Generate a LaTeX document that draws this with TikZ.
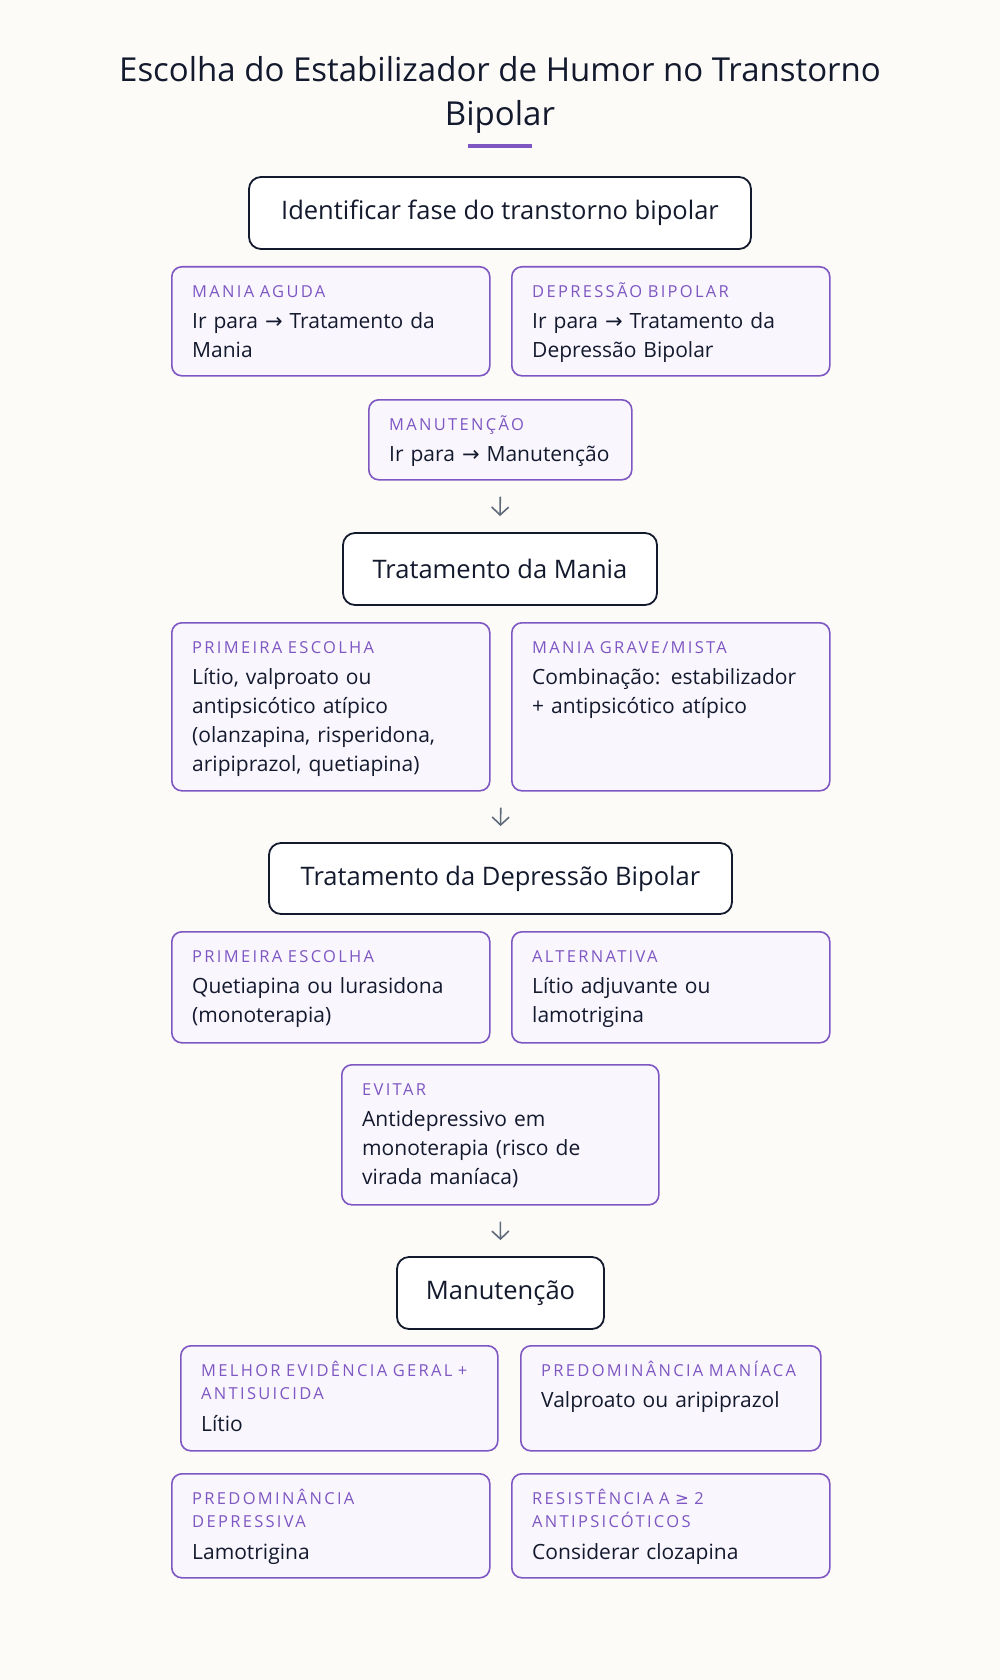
\documentclass[tikz,border=0pt]{standalone}
\usepackage{fontspec}
\setmainfont{Open Sans}
\newfontfamily\labfont[LetterSpace=14]{Open Sans}
\newfontfamily\symfont{DejaVu Sans}
\usetikzlibrary{arrows.meta,positioning,calc}
\definecolor{bgcream}{HTML}{FDFBF8}
\definecolor{inkdark}{HTML}{141A2E}
\definecolor{moodpurple}{HTML}{7E57C2}
\definecolor{moodlav}{HTML}{F9F6FE}
\definecolor{arrowgray}{HTML}{5F6B7A}
\newcommand{\seta}{{\symfont\char"2192}}
\newcommand{\maiorig}{{\symfont\char"2265}}
\tikzset{
  phasebox/.style={draw=inkdark,line width=1.8pt,rounded corners=12pt,fill=white,text=inkdark,
    font=\fontsize{25.5}{30}\selectfont,inner sep=0pt},
  infobox/.style={draw=moodpurple,line width=1.6pt,rounded corners=10pt,fill=moodlav,
    anchor=north west,inner sep=0pt},
  infolab/.style={anchor=base west,inner sep=0pt,text=moodpurple,text width=320pt,align=left,
    font=\labfont\fontsize{16.5}{23}\selectfont},
  infotxt/.style={anchor=base west,inner sep=0pt,text=inkdark,text width=320pt,align=left,
    font=\fontsize{21}{29}\selectfont},
  flow/.style={arrowgray,line width=1.6pt,-{Straight Barb[length=8pt,width=17pt]}}
}
\begin{document}
\begin{tikzpicture}[x=1pt,y=-1pt]
  \fill[bgcream] (0,0) rectangle (1000,1680);
  \useasboundingbox (0,0) rectangle (1000,1680);
  \node[anchor=base,inner sep=0pt,text=inkdark,font=\fontsize{33}{44}\selectfont] (title) at (500,82)
    {Escolha do Estabilizador de Humor no Transtorno};
  \node[anchor=base,inner sep=0pt,text=inkdark,font=\fontsize{33}{44}\selectfont] (title2) at (500,126) {Bipolar};
  \fill[moodpurple] (468,144) rectangle (532,148);
  \node[phasebox,minimum width=502pt,minimum height=72pt] (fase) at (500,213) {Identificar fase do transtorno bipolar};
  \node[phasebox,minimum width=314pt,minimum height=72pt] (mania) at (500,569) {Tratamento da Mania};
  \node[phasebox,minimum width=463pt,minimum height=71pt] (depre) at (500.5,878.5) {Tratamento da Depressão Bipolar};
  \node[phasebox,minimum width=207pt,minimum height=72pt] (manut) at (500.5,1293) {Manutenção};
  \foreach \n/\x/\y/\w/\h/\d/\lab/\txt in {
    agu/171/266/318/109/62/{MANIA AGUDA}/{Ir para \seta{} Tratamento da\\Mania},
    bip/511/266/318/109/62/{DEPRESSÃO BIPOLAR}/{Ir para \seta{} Tratamento da\\Depressão Bipolar},
    irm/368/399/263/80/62/{MANUTENÇÃO}/{Ir para \seta{} Manutenção},
    mpri/171/622/318/168/62/{PRIMEIRA ESCOLHA}/{Lítio, valproato ou\\antipsicótico atípico\\(olanzapina, risperidona,\\aripiprazol, quetiapina)},
    mgra/511/622/318/168/62/{MANIA GRAVE/MISTA}/{Combinação: estabilizador\\+ antipsicótico atípico},
    dpri/171/931/318/111/62/{PRIMEIRA ESCOLHA}/{Quetiapina ou lurasidona\\(monoterapia)},
    dalt/511/931/318/111/62/{ALTERNATIVA}/{Lítio adjuvante ou\\lamotrigina},
    devi/341/1064/317/140/62/{EVITAR}/{Antidepressivo em\\monoterapia (risco de\\virada maníaca)},
    mlit/180/1345/317/105/86/{MELHOR EVIDÊNCIA GERAL +\\ANTISUICIDA}/{Lítio},
    mman/520/1345/300/105/62/{PREDOMINÂNCIA MANÍACA}/{Valproato ou aripiprazol},
    mdep/171/1473/318/104/86/{PREDOMINÂNCIA\\DEPRESSIVA}/{Lamotrigina},
    mres/511/1473/318/104/86/{RESISTÊNCIA A \maiorig{} 2\\ANTIPSICÓTICOS}/{Considerar clozapina}}{
    \node[infobox,minimum width=\w,minimum height=\h] (\n) at (\x,\y) {};
    \node[infolab] (\n-lab) at ($(\n.north west)+(21,31)$) {\lab};
    \node[infotxt] (\n-txt) at ($(\n.north west)+(21,\d)$) {\txt};
  }
  \coordinate (mrow) at ($(mpri.south east)!.5!(mgra.south west)$);
  \draw[flow] ([yshift=-16pt]irm.south) -- ([yshift=16pt]mania.north);
  \draw[flow] ([yshift=-16pt]mrow) -- ([yshift=16pt]depre.north);
  \draw[flow] ([yshift=-16pt]devi.south) -- ([yshift=16pt]manut.north);
\end{tikzpicture}
\end{document}
